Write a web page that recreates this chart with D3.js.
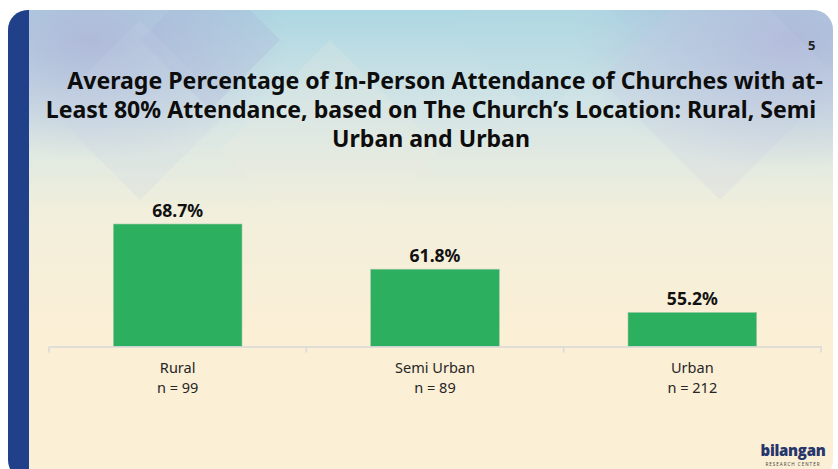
<!DOCTYPE html>
<html>
<head>
<meta charset="utf-8">
<script src="https://cdn.jsdelivr.net/npm/d3@7"></script>
<style>
  html, body { margin: 0; padding: 0; background: #fff; }
  svg { display: block; }
</style>
</head>
<body>
<div id="chart"></div>
<script>
// Datos del gráfico
const categories = ["Rural", "Semi Urban", "Urban"];
const sampleSizes = [99, 89, 212];
const values = [68.7, 61.8, 55.2];
const titleLines = [
    "Average Percentage of In-Person Attendance of Churches with at-",
    "Least 80% Attendance, based on The Church\u2019s Location: Rural, Semi",
    "Urban and Urban"
];
const pageNumber = "5";

const W = 838, H = 469;
const font = "'Noto Sans', Roboto, sans-serif";

const svg = d3.select("#chart").append("svg")
    .attr("width", W)
    .attr("height", H);

const defs = svg.append("defs");

// Fondo: degradado de azul claro a crema
const bg = defs.append("linearGradient")
    .attr("id", "bg").attr("x1", 0).attr("y1", 0).attr("x2", 0).attr("y2", 1);
bg.append("stop").attr("offset", "0%").attr("stop-color", "#a9d6e2");
bg.append("stop").attr("offset", "22%").attr("stop-color", "#d2e4e6");
bg.append("stop").attr("offset", "45%").attr("stop-color", "#f1efdc");
bg.append("stop").attr("offset", "70%").attr("stop-color", "#fbefd6");
bg.append("stop").attr("offset", "100%").attr("stop-color", "#fbefd5");

const lav = defs.append("radialGradient").attr("id", "lav");
lav.append("stop").attr("offset", "0%").attr("stop-color", "#aeb4d8").attr("stop-opacity", 0.85);
lav.append("stop").attr("offset", "100%").attr("stop-color", "#aeb4d8").attr("stop-opacity", 0);

defs.append("clipPath").attr("id", "card")
    .append("rect")
    .attr("x", 8).attr("y", 10)
    .attr("width", 825).attr("height", 470)
    .attr("rx", 20);

const card = svg.append("g").attr("clip-path", "url(#card)");

card.append("rect")
    .attr("x", 0).attr("y", 0).attr("width", W).attr("height", H)
    .attr("fill", "url(#bg)");

// Manchas lavanda en las esquinas superiores
card.append("ellipse").attr("cx", 90).attr("cy", 40).attr("rx", 200).attr("ry", 120).attr("fill", "url(#lav)");
card.append("ellipse").attr("cx", 790).attr("cy", 40).attr("rx", 220).attr("ry", 130).attr("fill", "url(#lav)");

// Rombos decorativos
const diamonds = [
    [210, 40, 70, "#a7afd6", 0.25],
    [140, 110, 90, "#c9d2e6", 0.2],
    [330, 150, 110, "#f4efe0", 0.18],
    [720, 80, 120, "#c8cfe4", 0.2],
    [540, 30, 90, "#b8dce4", 0.2]
];
card.selectAll(".diamond")
    .data(diamonds)
    .enter().append("path")
    .attr("class", "diamond")
    .attr("d", d => `M${d[0]},${d[1] - d[2]}L${d[0] + d[2]},${d[1]}L${d[0]},${d[1] + d[2]}L${d[0] - d[2]},${d[1]}Z`)
    .attr("fill", d => d[3])
    .attr("opacity", d => d[4]);

// Banda azul oscura a la izquierda
card.append("rect")
    .attr("x", 8).attr("y", 10).attr("width", 21).attr("height", H)
    .attr("fill", "#20418a");

// Ajusta el tamaño de letra para que el texto mida lo deseado
function fitFont(sel, target) {
    const len = sel.node().getComputedTextLength();
    const fs = +sel.attr("font-size");
    sel.attr("font-size", fs * target / len);
    return fs * target / len;
}

// Escalas
const axisY = 346.5;
const x = d3.scaleBand()
    .domain(categories)
    .range([49, 821])
    .paddingInner(0.5)
    .paddingOuter(0.25);

const y = d3.scaleLinear()
    .domain([50, 80])
    .range([axisY, 150]);

const data = categories.map((c, i) => ({ cat: c, n: sampleSizes[i], v: values[i] }));

// Barras
svg.selectAll(".bar")
    .data(data)
    .enter().append("rect")
    .attr("class", "bar")
    .attr("x", d => x(d.cat))
    .attr("y", d => y(d.v))
    .attr("width", x.bandwidth())
    .attr("height", d => axisY - y(d.v))
    .attr("fill", "#2daf60")
    .attr("stroke", "#9fc9a8")
    .attr("stroke-width", 0.6);

// Eje
const axis = svg.append("g").attr("transform", `translate(0,${axisY})`)
    .call(d3.axisBottom(x).tickSize(0).tickFormat(""));
axis.select(".domain").attr("stroke", "#d9d9d9").attr("stroke-width", 1.5);

// Marcas entre categorías
const edges = d3.range(categories.length + 1).map(i => x.range()[0] + i * x.step());
axis.selectAll(".edge")
    .data(edges)
    .enter().append("line")
    .attr("class", "edge")
    .attr("x1", d => d).attr("x2", d => d)
    .attr("y1", 0).attr("y2", 6)
    .attr("stroke", "#d9d9d9").attr("stroke-width", 1.5);

// Etiquetas de categoría
const probe = svg.append("text").attr("font-family", font).attr("font-size", 15).text("Semi Urban");
const catSize = fitFont(probe, 80);
probe.remove();

const labels = svg.selectAll(".cat")
    .data(data)
    .enter().append("text")
    .attr("class", "cat")
    .attr("text-anchor", "middle")
    .attr("font-family", font)
    .attr("font-size", catSize)
    .attr("fill", "#262626");
labels.append("tspan")
    .attr("x", d => x(d.cat) + x.bandwidth() / 2)
    .attr("y", 373)
    .text(d => d.cat);
labels.append("tspan")
    .attr("x", d => x(d.cat) + x.bandwidth() / 2)
    .attr("y", 392.5)
    .text(d => `n = ${d.n}`);

// Valores
const vals = svg.selectAll(".val")
    .data(data)
    .enter().append("text")
    .attr("class", "val")
    .attr("x", d => x(d.cat) + x.bandwidth() / 2)
    .attr("y", d => y(d.v) - 7)
    .attr("text-anchor", "middle")
    .attr("font-family", font)
    .attr("font-weight", "bold")
    .attr("font-size", 16)
    .attr("fill", "#111")
    .text(d => d3.format(".1f")(d.v) + "%");
const valSize = fitFont(d3.select(vals.nodes()[0]), 51);
vals.attr("font-size", valSize);

// Título
const titleX = [445, 431, 431];
const title = svg.append("text")
    .attr("text-anchor", "middle")
    .attr("font-family", font)
    .attr("font-weight", "bold")
    .attr("font-size", 23)
    .attr("fill", "#0d0d0d");
title.selectAll("tspan")
    .data(titleLines)
    .enter().append("tspan")
    .attr("x", (d, i) => titleX[i])
    .attr("y", (d, i) => 89 + i * 29)
    .text(d => d);
const t0 = title.append("tspan").attr("x", -999).text(titleLines[0]);
const tLen = t0.node().getComputedTextLength();
t0.remove();
title.attr("font-size", 23 * 756 / tLen);

// Número de página
svg.append("text")
    .attr("x", 808).attr("y", 50)
    .attr("font-family", font)
    .attr("font-weight", "bold")
    .attr("font-size", 13)
    .attr("fill", "#222")
    .text(pageNumber);

// Logo
const logo = svg.append("g").attr("transform", "translate(793,456)");
logo.append("text")
    .attr("text-anchor", "middle")
    .attr("font-family", "'Open Sans', sans-serif")
    .attr("font-weight", 800)
    .attr("font-size", 15)
    .attr("letter-spacing", -0.3)
    .attr("fill", "#26356c")
    .text("bilangan");
logo.append("text")
    .attr("y", 10)
    .attr("text-anchor", "middle")
    .attr("font-family", font)
    .attr("font-size", 4.5)
    .attr("letter-spacing", 1)
    .attr("fill", "#444")
    .text("RESEARCH CENTER");
</script>
</body>
</html>
